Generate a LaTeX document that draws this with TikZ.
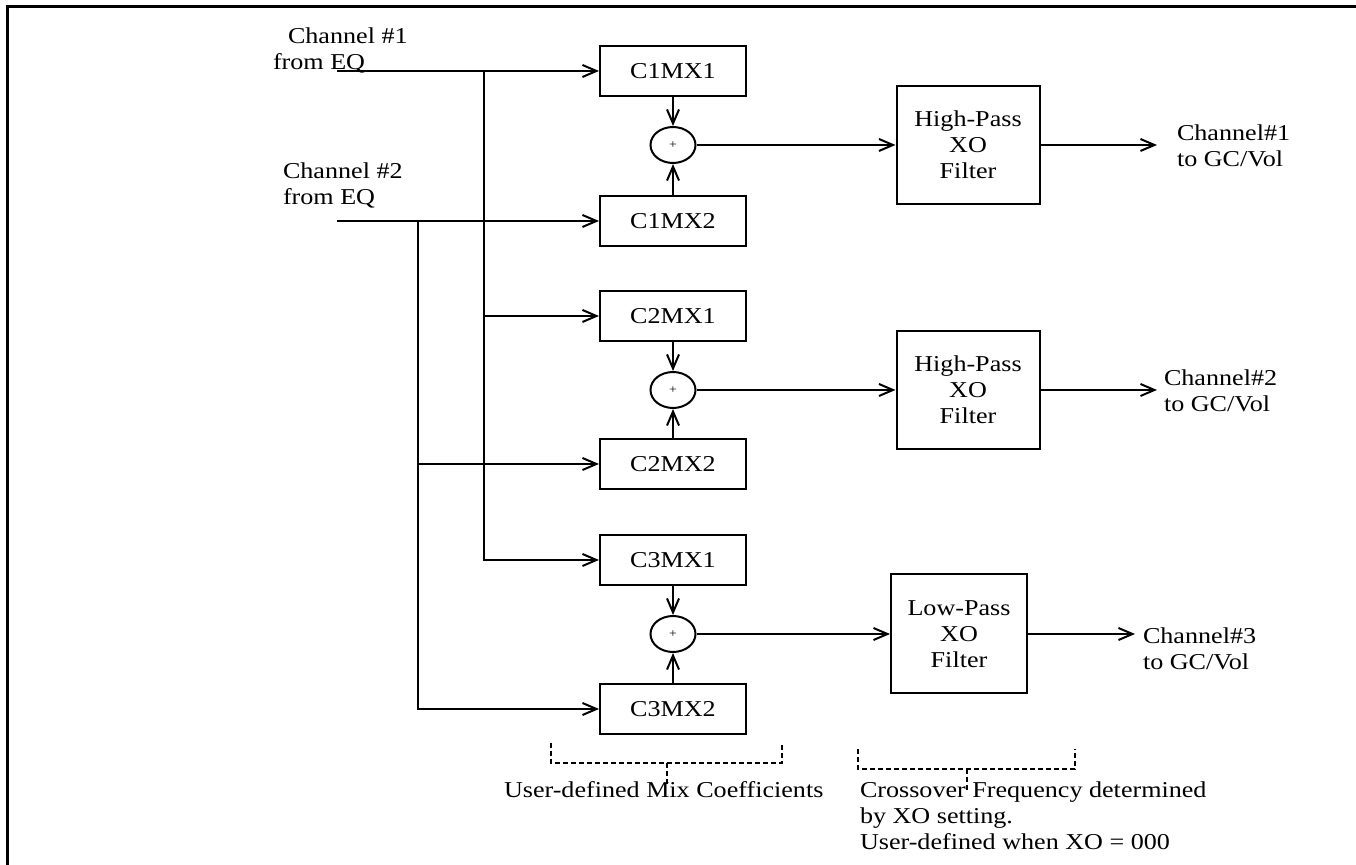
\documentclass[tikz,border=0pt]{standalone}
\usepackage{fontspec}
\setmainfont{Liberation Serif}[FakeStretch=1.15]
\usetikzlibrary{arrows.meta,shapes.geometric}

\begin{document}
\begin{tikzpicture}[x=0.5pt, y=-0.5pt, line width=1pt,
    font=\fontsize{11.35}{13}\selectfont]

\useasboundingbox (0,0) rectangle (1356,865);

% Frame, top and left edge only
\draw [line width=1.5pt] (1356,7) -- (7,7) -- (7,865);

\begin{scope}[every node/.style={rectangle,draw,inner sep=0pt}]
    % Mix coefficient blocks
    \node (M11) at (673,71) [minimum width=73pt, minimum height=25pt] {C1MX1};
    \node (M12) at (673,221) [minimum width=73pt, minimum height=25pt] {C1MX2};
    \node (M21) at (673,316) [minimum width=73pt, minimum height=25pt] {C2MX1};
    \node (M22) at (673,464) [minimum width=73pt, minimum height=25pt] {C2MX2};
    \node (M31) at (673,560) [minimum width=73pt, minimum height=25pt] {C3MX1};
    \node (M32) at (673,709) [minimum width=73pt, minimum height=25pt] {C3MX2};

    % Summing points
    \node (S1) at (673,145) [ellipse, minimum width=22.5pt, minimum height=18pt,
        font=\fontsize{6}{6}\selectfont] {+};
    \node (S2) at (673,390) [ellipse, minimum width=22.5pt, minimum height=18pt,
        font=\fontsize{6}{6}\selectfont] {+};
    \node (S3) at (673,634) [ellipse, minimum width=22.5pt, minimum height=18pt,
        font=\fontsize{6}{6}\selectfont] {+};

    % XO filters
    \node (F1) at (968,145) [minimum width=71.5pt, minimum height=59pt, align=center]
        {High-Pass\\XO\\Filter};
    \node (F2) at (968,390) [minimum width=71.5pt, minimum height=59pt, align=center]
        {High-Pass\\XO\\Filter};
    \node (F3) at (959,634) [minimum width=68pt, minimum height=59.5pt, align=center]
        {Low-Pass\\XO\\Filter};
\end{scope}

% Input and output labels
\node (In1) at (272,70) [anchor=base west, align=left, inner sep=0pt]
    {\hspace*{7.5pt}Channel \#1\\from EQ};
\node (In2) at (282,205) [anchor=base west, align=left, inner sep=0pt]
    {Channel \#2\\from EQ};
\node (Out1) at (1176,146) [anchor=west, align=left, inner sep=0pt] {Channel\#1\\to GC/Vol};
\node (Out2) at (1163,391) [anchor=west, align=left, inner sep=0pt] {Channel\#2\\to GC/Vol};
\node (Out3) at (1142,649) [anchor=west, align=left, inner sep=0pt] {Channel\#3\\to GC/Vol};

\coordinate (A1) at (337,71);
\coordinate (A2) at (337,221);
\coordinate (J1) at (484,71);
\coordinate (J2) at (418,221);
\coordinate (O1) at (1157,145);
\coordinate (O2) at (1157,390);
\coordinate (O3) at (1135,634);

\begin{scope}[>={Straight Barb[length=7pt,width=6pt]}]
    % Channel 1 feeds the xMX1 blocks
    \draw [->] (A1) -- (M11.west);
    \draw [->] (J1) |- (M21.west);
    \draw [->] (J1) |- (M31.west);
    % Channel 2 feeds the xMX2 blocks
    \draw [->] (A2) -- (M12.west);
    \draw [->] (J2) |- (M22.west);
    \draw [->] (J2) |- (M32.west);

    \draw [->] (M11) -- (S1);
    \draw [->] (M12) -- (S1);
    \draw [->] (M21) -- (S2);
    \draw [->] (M22) -- (S2);
    \draw [->] (M31) -- (S3);
    \draw [->] (M32) -- (S3);

    \draw [->] (S1) -- (F1);
    \draw [->] (S2) -- (F2);
    \draw [->] (S3) -- (F3);

    \draw [->] (F1) -- (O1);
    \draw [->] (F2) -- (O2);
    \draw [->] (F3) -- (O3);
\end{scope}

% Dashed brackets with their notes
\tikzset{Bracket/.style={line width=0.6pt, dash pattern=on 2.5pt off 1.5pt}}

\draw [Bracket] (551,743) -- (551,763) -- (782,763) -- (782,743);
\draw [Bracket] (667,763) -- (667,785);
\node (MixNote) at (503,798) [anchor=base west, inner sep=0pt] {User-defined Mix Coefficients};

\draw [Bracket] (858,749) -- (858,769) -- (1075,769) -- (1075,749);
\draw [Bracket] (967,769) -- (967,790);
\node (XONote) at (859,850) [anchor=base west, align=left, inner sep=0pt]
    {Crossover Frequency determined\\by XO setting.\\User-defined when XO = 000};

\end{tikzpicture}
\end{document}
